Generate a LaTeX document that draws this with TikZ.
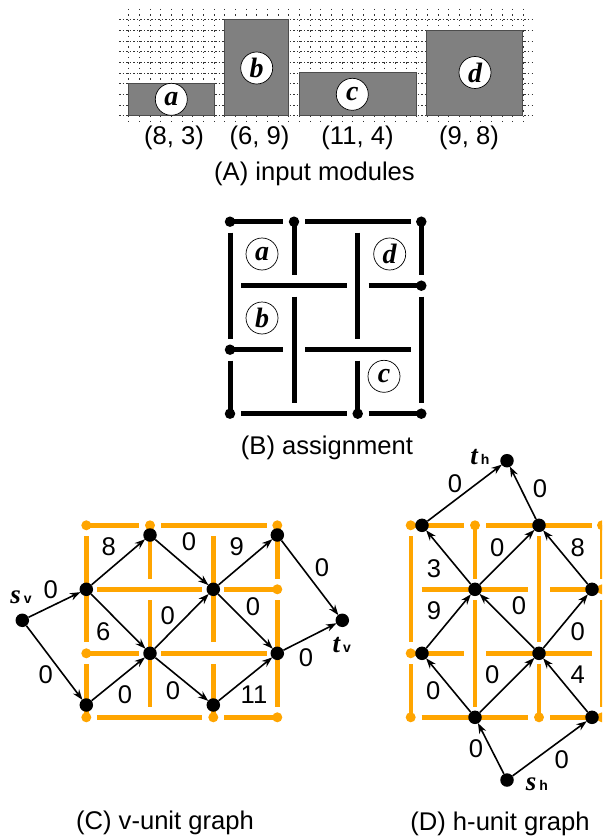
\documentclass[tikz,border=0pt]{standalone}
\usepackage{fontspec}
\setmainfont{Liberation Sans}
\newfontfamily\serifbi{Liberation Serif Bold Italic}
\newfontfamily\sansb{Liberation Sans Bold}
\usetikzlibrary{arrows.meta}
\definecolor{mazeorange}{HTML}{FFA500}
\tikzset{
  x=1pt,y=-1pt,
  txt/.style={inner sep=0pt,font=\fontsize{25.6}{25.6}\selectfont},
  modbox/.style={draw=black!70,fill=black!50,line width=1pt},
  gridv/.style={black!80,line width=0.7pt,dash pattern=on 1.5pt off 3.83pt},
  gridh/.style={black!80,line width=0.7pt,dash pattern=on 1.5pt off 2.056pt},
  modlabel/.style={circle,draw=black,fill=white,line width=0.7pt,minimum size=32pt,inner sep=0pt,font=\serifbi\fontsize{28}{28}\selectfont},
  wall/.style={line width=5pt},
  wallb/.style={wall,black},
  wallo/.style={wall,mazeorange,line width=4.4pt},
  bdot/.style={circle,fill=black,minimum size=10.5pt,inner sep=0pt},
  odot/.style={circle,fill=mazeorange,minimum size=10pt,inner sep=0pt},
  gv/.style={circle,fill=black,minimum size=13.5pt,inner sep=0pt},
  arc/.style={black,line width=1.6pt,-{Stealth[length=10.5pt,width=7.5pt]},shorten >=-0.5pt},
  term/.style={inner sep=0pt}
}
\newcommand{\sublab}[2]{{\serifbi\fontsize{27}{27}\selectfont #1}\hspace{3pt}{\sansb\fontsize{14}{14}\selectfont #2}}
\newcommand{\maze}[9]{%
  \draw[#1] (#2,#6) -- (#3-11,#6); \draw[#1] (#3+11,#6) -- (#5-10.5,#6);
  \draw[#1] (#2+11,#7) -- (#4-11,#7); \draw[#1] (#4+11,#7) -- (#5,#7);
  \draw[#1] (#2,#8) -- (#3-11,#8); \draw[#1] (#3+11,#8) -- (#5-10.5,#8);
  \draw[#1] (#2+11,#9) -- (#4-11,#9); \draw[#1] (#4+11,#9) -- (#5,#9);
  \draw[#1] (#2,#6+11) -- (#2,#8-11); \draw[#1] (#2,#8+11) -- (#2,#9);
  \draw[#1] (#3,#6) -- (#3,#7-10.5); \draw[#1] (#3,#7+11) -- (#3,#9-10.5);
  \draw[#1] (#4,#6+11) -- (#4,#8-11); \draw[#1] (#4,#8+11) -- (#4,#9);
  \draw[#1] (#5,#6) -- (#5,#7-10.5); \draw[#1] (#5,#7+11) -- (#5,#9-10.5);
}
\begin{document}
\begin{tikzpicture}
\useasboundingbox (0,0) rectangle (602,837);
\clip (0,0) rectangle (602,837);
% ---- A
\foreach \i in {0,...,37} \draw[gridv] ({128.7+\i*10.667},9) -- ({128.7+\i*10.667},125);
\foreach \j in {0,...,9} \draw[gridh] (119,{115.7-\j*10.667}) -- (533,{115.7-\j*10.667});
\draw[modbox] (128.7,83.7) rectangle (214.3,115.7);
\draw[modbox] (224.7,19.7) rectangle (288.7,115.7);
\draw[modbox] (299,73) rectangle (416.3,115.7);
\draw[modbox] (426.3,30.3) rectangle (522.3,115.7);
\node[modlabel] (ma) at (171.3,99.3) {a};
\node[modlabel] (mb) at (256.7,68) {b};
\node[modlabel] (mc) at (352.3,94.3) {c};
\node[modlabel] (md) at (475,72.5) {d};
\node[txt] (ta) at (174,138) {(8, 3)};
\node[txt] (tb) at (259.5,138) {(6, 9)};
\node[txt] (tc) at (357.5,138) {(11, 4)};
\node[txt] (td) at (469,138) {(9, 8)};
\node[txt] (capa) at (314.5,174) {(A) input modules};
% ---- B
\maze{wallb}{230}{294}{357.7}{421.3}{221.7}{285.7}{349.7}{413.7}
\foreach \n/\p in {b1/{230,221.7},b2/{294,221.7},b3/{421.3,221.7},b4/{421.3,285.7},b5/{230,349.7},b6/{230,413.7},b7/{357.7,413.7},b8/{421.3,413.7}}
  \node[bdot] (\n) at (\p) {};
\begin{scope}[every node/.style={modlabel,fill=none}]
\node (la) at (262,254) {a};
\node (lb) at (262,318) {b};
\node (lc) at (384,376.3) {c};
\node (ld) at (389.7,254) {d};
\end{scope}
\node[txt] (capb) at (327,448) {(B) assignment};
% ---- C
\maze{wallo}{86.3}{150}{213.3}{277.3}{525.3}{589.3}{653.3}{717.3}
\foreach \n/\p in {c1/{86.3,525.3},c2/{150,525.3},c3/{277.3,525.3},c4/{277.3,589.3},c5/{86.3,653.3},c6/{86.3,717.3},c7/{213.3,717.3},c8/{277.3,717.3}}
  \node[odot] (\n) at (\p) {};
\node[gv] (sv) at (22.3,620.3) {};
\node[gv] (v1) at (86.3,589.3) {};
\node[gv] (v2) at (150,535) {};
\node[gv] (v3) at (277.3,535) {};
\node[gv] (v4) at (213.3,589.3) {};
\node[gv] (v5) at (150,653.3) {};
\node[gv] (v6) at (86.3,705) {};
\node[gv] (v7) at (213.3,705) {};
\node[gv] (v8) at (277.3,653.3) {};
\node[gv] (tv) at (342.3,620.3) {};
\foreach \a/\b in {sv/v1,sv/v6,v1/v2,v1/v5,v2/v4,v4/v3,v4/v8,v5/v4,v5/v7,v6/v5,v7/v8,v8/tv,v3/tv}
  \draw[arc] (\a) -- (\b);
\foreach \n/\p/\t in {q1/{50.7,590}/0,q2/{108.7,546.7}/8,q3/{189,541.7}/0,q4/{236.7,546.7}/9,q5/{322,568}/0,q6/{253,606.7}/0,q7/{167.7,615.7}/0,q8/{103.3,631.7}/6,q9/{45.7,675}/0,q10/{125,695}/0,q11/{173,691}/0,q12/{254,695}/11,q13/{306,658}/0}
  \node[txt] (\n) at (\p) {\t};
\node[term,anchor=base] (lsv) at (21,603) {\sublab{s}{v}};
\node[term,anchor=base] (ltv) at (341.7,652) {\sublab{t}{v}};
\node[txt] (capc) at (165,823) {(C) v-unit graph};
% ---- D
\maze{wallo}{410.7}{475}{539}{602}{525.3}{589.3}{653.3}{717.3}
\foreach \n/\p in {d1/{410.7,525.3},d2/{475,525.3},d3/{602,525.3},d4/{602,589.3},d5/{410.7,653.3},d6/{410.7,717.3},d7/{539,717.3},d8/{602,717.3}}
  \node[odot] (\n) at (\p) {};
\node[gv] (th) at (507,460.7) {};
\node[gv] (h1) at (422,525.3) {};
\node[gv] (h2) at (539,525.3) {};
\node[gv] (h3) at (475,589.3) {};
\node[gv] (h4) at (592,589.3) {};
\node[gv] (h5) at (422,653.3) {};
\node[gv] (h6) at (539,653.3) {};
\node[gv] (h7) at (475,717.3) {};
\node[gv] (h8) at (592,717.3) {};
\node[gv] (sh) at (507,780) {};
\foreach \a/\b in {h1/th,h2/th,h3/h1,h3/h2,h4/h2,h5/h3,h6/h3,h6/h4,h7/h5,h7/h6,h8/h6,sh/h7,sh/h8}
  \draw[arc] (\a) -- (\b);
\foreach \n/\p/\t in {r1/{455,483.3}/0,r2/{540,489}/0,r3/{497.3,547.3}/0,r4/{577.7,547.3}/8,r5/{434,568.3}/3,r6/{434,611}/9,r7/{519,605.7}/0,r8/{577.7,631.7}/0,r9/{492.3,674.3}/0,r10/{577.7,674.3}/4,r11/{433.3,690.7}/0,r12/{476,748.3}/0,r13/{561.7,760}/0}
  \node[txt] (\n) at (\p) {\t};
\node[term,anchor=base] (lth) at (480,464) {\sublab{t}{h}};
\node[term,anchor=base] (lsh) at (537,790) {\sublab{s}{h}};
\node[txt] (capd) at (500,824) {(D) h-unit graph};
\end{tikzpicture}
\end{document}
